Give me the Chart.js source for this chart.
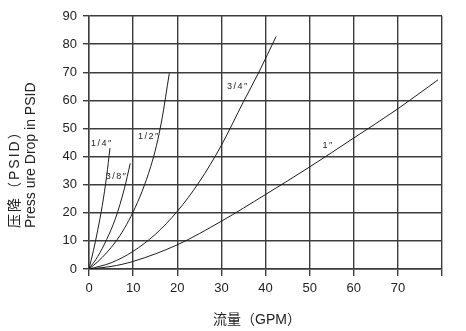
<!DOCTYPE html>
<html>
<head>
<meta charset="utf-8">
<script src="https://cdn.jsdelivr.net/npm/chart.js@4"></script>
<style>
  html, body { margin:0; padding:0; background:#fff; }
  canvas { display:block; }
</style>
</head>
<body>
<canvas id="grafico" width="466" height="331"></canvas>
<script>
// ================== Dados (vazão GPM x queda de pressão PSID) ==================
const flow14 = [0, 1, 2, 3, 4, 4.75];
const drop14 = [0, 6.5, 14, 22.5, 33, 43];

const flow38 = [0, 2, 4, 6, 8, 9.35];
const drop38 = [0, 4.5, 10.5, 18, 28.5, 37.6];

const flow12 = [0, 2, 4, 6, 8, 10, 12, 14, 15.3, 16.5, 18.2];
const drop12 = [0, 2.6, 5.8, 9.6, 14.4, 20.3, 27.5, 36.5, 44, 53, 69.6];

const flow34 = [0, 5, 10, 15, 20, 25, 30, 35, 38.5, 42.4];
const drop34 = [0, 2.2, 6.3, 12.3, 20.5, 31, 44, 59.5, 70, 82.7];

const flow1 = [0, 5, 10, 20, 30, 40, 50, 60, 70, 79.1];
const drop1 = [0, 0.9, 2.7, 8.6, 17, 26.5, 36.3, 46.6, 57, 67.3];

const curveLabels = ['1/4″', '3/8″', '1/2″', '3/4″', '1″'];
const labelFlow = [0.45, 3.8, 11.1, 31.3, 52.9];
const labelDrop = [44.8, 32.8, 47, 64.8, 44.1];

const xTicks = [0, 10, 20, 30, 40, 50, 60, 70];
const yTitleCn = '压降（PSID）';
const yTitleEn = 'Press ure Drop in PSID';
const xTitle = '流量（GPM）';

// ================== Helpers ==================
const pares = (xs, ys) => xs.map((v, i) => ({ x: v, y: ys[i] }));

function serie(xs, ys) {
  return {
    data: pares(xs, ys),
    showLine: true,
    borderColor: '#1c1c1c',
    borderWidth: 1,
    pointRadius: 0,
    fill: false,
    cubicInterpolationMode: 'monotone'
  };
}

const corGrade = '#3c3c3c';
const fonteLatina = '"Liberation Sans", Arial, sans-serif';
const fonteCJK = '"Liberation Sans", "Noto Sans CJK SC", sans-serif';

// ================== Textos extras (rótulos das curvas e títulos) ==================
const textosPlugin = {
  id: 'textos',
  afterDraw(chart) {
    const { ctx, scales: { x, y } } = chart;
    ctx.save();
    ctx.fillStyle = '#222';

    // rótulos das curvas
    ctx.font = '9px ' + fonteLatina;
    ctx.letterSpacing = '1.5px';
    ctx.textBaseline = 'middle';
    ctx.textAlign = 'left';
    curveLabels.forEach((txt, i) => {
      ctx.fillText(txt, x.getPixelForValue(labelFlow[i]), y.getPixelForValue(labelDrop[i]));
    });

    // título do eixo Y (duas linhas, girado)
    ctx.font = '14px ' + fonteCJK;
    ctx.letterSpacing = '2px';
    ctx.save();
    ctx.translate(15, 228);
    ctx.rotate(-Math.PI / 2);
    ctx.fillText(yTitleCn, 0, 0);
    ctx.restore();

    ctx.font = '14px ' + fonteLatina;
    ctx.letterSpacing = '0px';
    ctx.save();
    ctx.translate(31, 228);
    ctx.rotate(-Math.PI / 2);
    ctx.fillText(yTitleEn, 0, 0);
    ctx.restore();

    // título do eixo X
    ctx.font = '14px ' + fonteCJK;
    ctx.fillText(xTitle, 213, 320);
    ctx.restore();
  }
};

// ================== Gráfico ==================
const ctx = document.getElementById('grafico').getContext('2d');
new Chart(ctx, {
  type: 'scatter',
  data: {
    datasets: [
      serie(flow14, drop14),
      serie(flow38, drop38),
      serie(flow12, drop12),
      serie(flow34, drop34),
      serie(flow1, drop1)
    ]
  },
  options: {
    responsive: false,
    animation: false,
    devicePixelRatio: 1,
    layout: { padding: { top: 16, right: 24, bottom: 31, left: 0 } },
    plugins: { legend: { display: false }, tooltip: { enabled: false } },
    scales: {
      x: {
        type: 'linear',
        min: 0,
        max: 80,
        afterFit: s => { s.height = 31; },
        afterBuildTicks: s => { s.ticks = xTicks.concat([80]).map(v => ({ value: v })); },
        ticks: {
          callback: v => xTicks.includes(v) ? String(v) : '',
          color: '#222',
          font: { family: fonteLatina, size: 13 },
          padding: 5,
          maxRotation: 0
        },
        grid: { color: corGrade, lineWidth: 1.4, tickLength: 7, tickColor: corGrade },
        border: { color: corGrade, width: 1.4 }
      },
      y: {
        type: 'linear',
        min: 0,
        max: 90,
        afterFit: s => { s.width = 89; },
        ticks: {
          stepSize: 10,
          color: '#222',
          font: { family: fonteLatina, size: 13 },
          padding: 6
        },
        grid: { color: corGrade, lineWidth: 1.4, tickLength: 6, tickColor: corGrade },
        border: { color: corGrade, width: 1.4 }
      }
    }
  },
  plugins: [textosPlugin]
});
</script>
</body>
</html>
